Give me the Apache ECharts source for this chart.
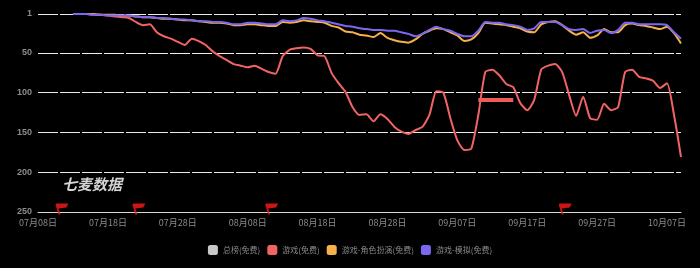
<!DOCTYPE html>
<html><head><meta charset="utf-8">
<script src="https://cdn.jsdelivr.net/npm/echarts@6/dist/echarts.min.js"></script>
<style>html,body{margin:0;padding:0;background:#000;}#c{width:700px;height:268px;}</style>
</head><body><div id="c"></div>
<script>
const categories = [
"07月08日","07月09日","07月10日","07月11日","07月12日","07月13日","07月14日","07月15日","07月16日","07月17日",
"07月18日","07月19日","07月20日","07月21日","07月22日","07月23日","07月24日","07月25日","07月26日","07月27日",
"07月28日","07月29日","07月30日","07月31日","08月02日","08月03日","08月04日","08月05日","08月06日","08月07日",
"08月08日","08月09日","08月10日","08月11日","08月12日","08月13日","08月14日","08月15日","08月16日","08月17日",
"08月18日","08月19日","08月20日","08月21日","08月22日","08月23日","08月24日","08月25日","08月26日","08月27日",
"08月28日","08月29日","08月30日","08月31日","09月01日","09月02日","09月03日","09月04日","09月05日","09月06日",
"09月07日","09月08日","09月09日","09月10日","09月11日","09月12日","09月13日","09月14日","09月15日","09月16日",
"09月17日","09月18日","09月19日","09月20日","09月21日","09月22日","09月23日","09月24日","09月25日","09月26日",
"09月27日","09月28日","09月29日","09月30日","10月01日","10月02日","10月03日","10月04日","10月05日","10月06日",
"10月07日","10月08日","10月09日"
];
const seriesNames = ["总榜(免费)", "游戏(免费)", "游戏-角色扮演(免费)", "游戏-模拟(免费)"];
const totalRank = [];
const gameRank = [null,null,null,null,null,
 1,1,1,2,2,3,4,5,6,11,15,14,24,29,32,36,40,32,35,40,48,54,59,64,66,
 68,66,70,74,76,54,46,44,43,45,53,54,75,88,99,118,128,127,136,127,
 133,143,149,152,147,143,128,98,100,132,160,172,170,128,74,71,78,89,93,113,
 122,109,71,66,64,74,103,129,105,132,134,114,122,118,74,71,80,82,85,94,
 88,128,181];
const rpgRank = [null,null,null,null,null,
 1,1,1,1,2,2,2,3,3,4,5,5,6,7,7,8,9,9,10,11,12,12,13,15,15,
 14,14,15,16,16,11,12,11,9,10,11,12,16,18,23,24,27,28,30,25,
 31,34,36,37,33,26,22,19,20,24,28,35,33,25,12,13,14,15,17,19,
 23,24,14,11,10,15,22,27,24,31,28,20,24,24,15,13,15,16,18,20,
 17,25,38];
const simRank = [null,null,null,null,null,
 1,1,1,2,2,3,3,3,3,4,5,5,6,6,7,8,8,9,10,10,11,11,12,14,14,
 12,12,13,14,14,9,10,9,6,7,9,10,12,14,16,17,19,20,21,21,
 22,22,24,26,29,26,21,17,20,22,26,29,29,22,11,12,12,14,15,17,
 21,19,11,11,11,15,20,21,20,25,22,21,25,21,12,12,14,14,14,14,
 15,24,32];
const yTicks = [1, 50, 100, 150, 200, 250];
const flagDays = ["07月11日", "07月22日", "08月11日", "09月22日"];
const highlightSeg = [["09月10日", 109], ["09月15日", 109]];

const colors = ["#c8c8c8", "#f26464", "#f7b04c", "#7a68f2"];
const chart = echarts.init(document.getElementById('c'), null, {renderer: 'canvas'});
const lineSeries = [totalRank, gameRank, rpgRank, simRank].map((d, i) => ({
  name: seriesNames[i], type: 'line', data: d, showSymbol: false, smooth: 0.2,
  lineStyle: {width: 2, color: colors[i]}, itemStyle: {color: colors[i]}, z: 3 + (i === 3 ? 1 : 0)
}));
lineSeries[1].markLine = {
  silent: true, symbol: ['none', 'none'], label: {show: false},
  lineStyle: {color: '#f05a5a', width: 4, type: 'solid'},
  data: [[{coord: highlightSeg[0]}, {coord: highlightSeg[1]}]]
};
const flagPath = 'path://M1,0 L13,0 L11,4 L3,5 L5,11 L3,11 L0,1 Z';
chart.setOption({
  backgroundColor: '#000',
  animation: false,
  color: colors,
  grid: {left: 38, right: 19, top: 14, bottom: 56, containLabel: false},
  legend: {
    data: seriesNames, top: 240, left: 'center', icon: 'roundRect',
    itemWidth: 10, itemHeight: 10, itemGap: 7,
    textStyle: {color: '#8a8a8a', fontSize: 8, fontFamily: 'Noto Sans CJK SC'}
  },
  graphic: [{
    type: 'text', left: 62, top: 177,
    style: {text: '七麦数据', fill: '#d4d4d4', font: 'italic bold 15px "Noto Sans CJK SC"'}
  }],
  xAxis: {
    type: 'category', data: categories, boundaryGap: false,
    axisLine: {lineStyle: {color: '#d8d8d8', width: 1}},
    axisTick: {show: false},
    axisLabel: {interval: 9, color: '#8c8c8c', fontSize: 9, margin: 6, fontFamily: 'Noto Sans CJK SC'},
    splitLine: {show: false}
  },
  yAxis: {
    type: 'value', inverse: true, min: 1, max: 250,
    axisLine: {show: false}, axisTick: {show: false, customValues: yTicks},
    axisLabel: {customValues: yTicks, color: '#8c8c8c', fontSize: 9, margin: 6, fontWeight: 'bold'},
    splitLine: {show: true, lineStyle: {color: '#ececec', width: 1, type: [20, 2]}}
  },
  series: lineSeries.concat([{
    name: 'flags', type: 'scatter', data: flagDays.map(d => [d, 250]),
    symbol: flagPath, symbolSize: [13, 11], symbolOffset: [3, -3],
    itemStyle: {color: '#ff1a1a'}, z: 10, silent: true
  }])
});
</script></body></html>
